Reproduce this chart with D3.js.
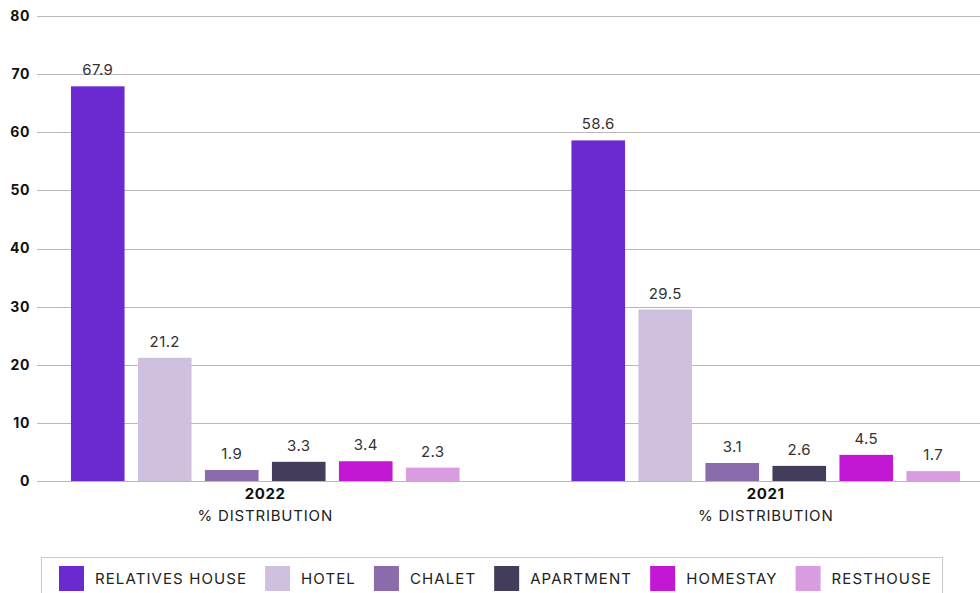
<!DOCTYPE html>
<html>
<head>
<meta charset="utf-8">
<script src="https://cdn.jsdelivr.net/npm/d3@7"></script>
<style>
  body { margin: 0; background: #fff; }
  svg { display: block; font-family: "Inter", "Lato", sans-serif; }
</style>
</head>
<body>
<svg id="chart" width="980" height="593"></svg>
<script>
// Chart data
const years = ["2022", "2021"];
const types = ["RELATIVES HOUSE", "HOTEL", "CHALET", "APARTMENT", "HOMESTAY", "RESTHOUSE"];
const colors = ["#6a2ad0", "#cfc0e0", "#8a6bab", "#433c5a", "#c218d4", "#d99ce0"];
const values2022 = [67.9, 21.2, 1.9, 3.3, 3.4, 2.3];
const values2021 = [58.6, 29.5, 3.1, 2.6, 4.5, 1.7];
const yTicks = [0, 10, 20, 30, 40, 50, 60, 70, 80];

const seriesByYear = {"2022": values2022, "2021": values2021};

const svg = d3.select("#chart");
const plot = {left: 37, right: 980, top: 16, bottom: 481};

// Scales
let y = d3.scaleLinear().domain([0, 80]).range([plot.bottom, plot.top]);
let x0 = d3.scaleBand().domain(years).range([15, 1016]);
let x1 = d3.scaleBand().domain(types).range([-201, 201]).paddingInner(0.2).paddingOuter(0.1);

// Gridlines
svg.append("g").selectAll("line")
    .data(yTicks).enter()
    .append("line")
        .attr("x1", plot.left)
        .attr("x2", plot.right)
        .attr("y1", d => Math.round(y(d)) + 0.5)
        .attr("y2", d => Math.round(y(d)) + 0.5)
        .attr("stroke", "#b8b8b8")
        .attr("stroke-width", 1);

// Y tick labels
svg.append("g").selectAll("text")
    .data(yTicks).enter()
    .append("text")
        .attr("x", 30)
        .attr("y", d => y(d))
        .attr("dy", "0.35em")
        .attr("text-anchor", "end")
        .style("font-size", "14px")
        .style("font-weight", "700")
        .style("letter-spacing", "0.6px")
        .attr("fill", "#111")
        .text(d => d);

// Bars
let groups = svg.append("g").selectAll("g")
    .data(years).enter()
    .append("g")
        .attr("transform", d => "translate(" + (x0(d) + x0.bandwidth() / 2) + ",0)");

let cells = groups.selectAll("g")
    .data(yr => seriesByYear[yr].map((v, i) => ({type: types[i], value: v, color: colors[i]})))
    .enter().append("g");

cells.append("rect")
    .attr("x", d => x1(d.type))
    .attr("width", x1.bandwidth())
    .attr("y", d => y(d.value))
    .attr("height", d => y(0) - y(d.value))
    .attr("fill", d => d.color);

cells.append("text")
    .attr("x", d => x1(d.type) + x1.bandwidth() / 2)
    .attr("y", d => y(d.value) - 11)
    .attr("text-anchor", "middle")
    .style("font-size", "15px")
    .style("letter-spacing", "0.4px")
    .attr("fill", "#333")
    .text(d => d.value.toFixed(1));

// Category labels
groups.append("text")
    .attr("y", 499)
    .attr("text-anchor", "middle")
    .style("font-size", "15px")
    .style("font-weight", "700")
    .style("letter-spacing", "0.6px")
    .attr("fill", "#111")
    .text(d => d);
groups.append("text")
    .attr("y", 521)
    .attr("text-anchor", "middle")
    .style("font-size", "15px")
    .style("letter-spacing", "0.8px")
    .attr("fill", "#222")
    .text("% DISTRIBUTION");

// Legend
let legend = svg.append("g");
legend.append("rect")
    .attr("x", 41.5)
    .attr("y", 557.5)
    .attr("width", 901)
    .attr("height", 60)
    .attr("fill", "none")
    .attr("stroke", "#c8c8c8");

let lx = 59;
types.forEach(function(t, i) {
  let item = legend.append("g").attr("transform", "translate(" + lx + ",566)");
  item.append("rect")
      .attr("width", 25)
      .attr("height", 25)
      .attr("fill", colors[i]);
  let label = item.append("text")
      .attr("x", 36)
      .attr("y", 12.5)
      .attr("dy", "0.35em")
      .style("font-size", "15px")
      .style("letter-spacing", "1.1px")
      .attr("fill", "#222")
      .text(t);
  lx += 36 + label.node().getComputedTextLength() + 18;
});
</script>
</body>
</html>
